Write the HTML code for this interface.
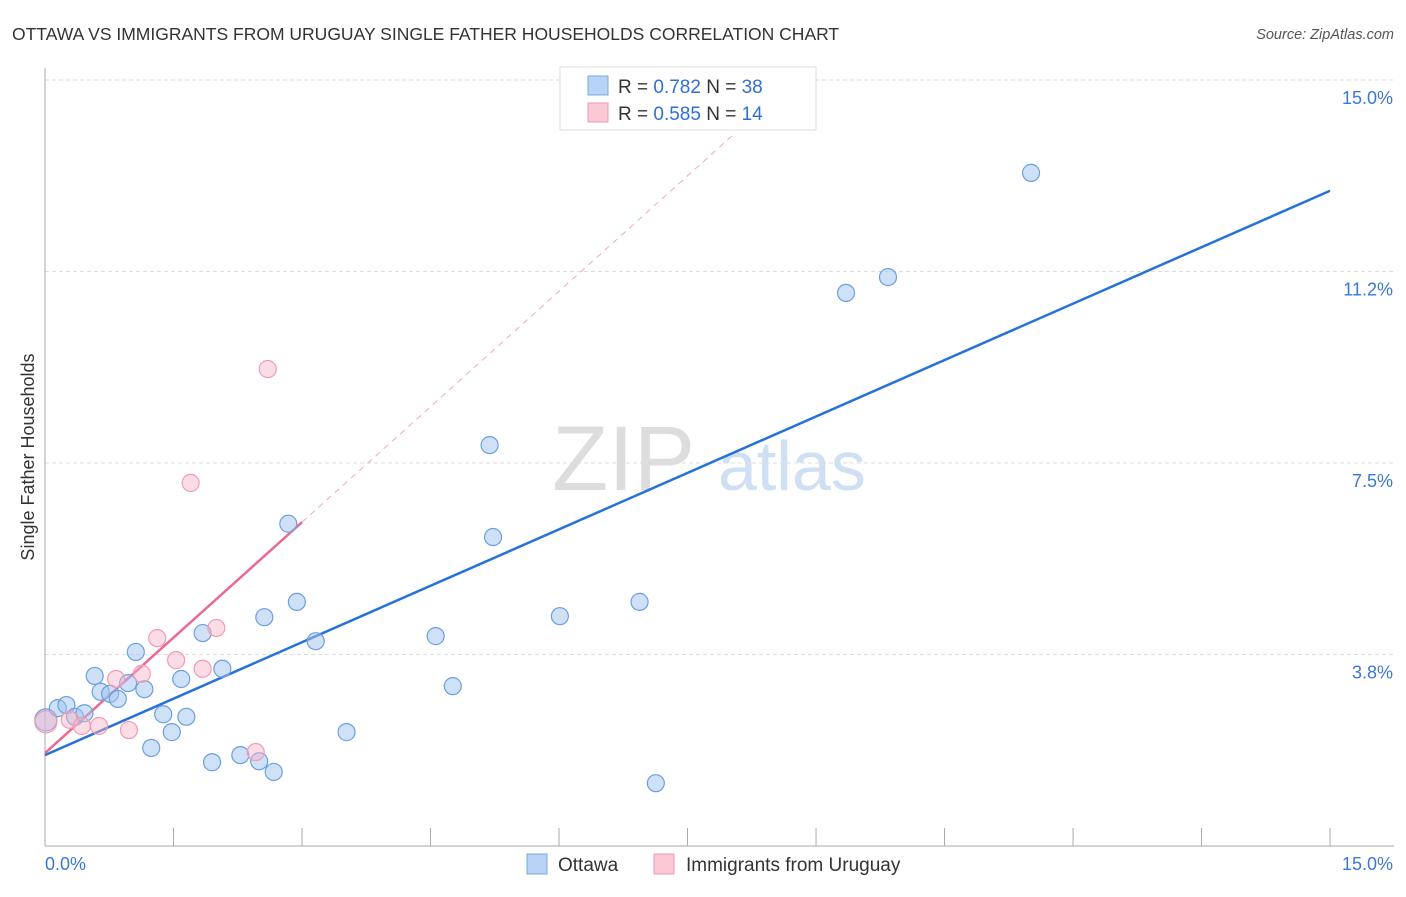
<!DOCTYPE html>
<html><head><meta charset="utf-8"><style>
body{margin:0;background:#fff;font-family:"Liberation Sans",sans-serif}
svg text{font-family:"Liberation Sans",sans-serif}
</style></head><body>
<svg id="c" width="1406" height="892">
<text x="12" y="40" font-size="17.5" fill="#333">OTTAWA VS IMMIGRANTS FROM URUGUAY SINGLE FATHER HOUSEHOLDS CORRELATION CHART</text>
<text x="1394" y="39" font-size="14.5" fill="#555" text-anchor="end" font-style="italic">Source: ZipAtlas.com</text>
<g><text x="552" y="490" font-size="92" fill="#ddd" font-family="Liberation Serif">ZIP</text><text x="718" y="490" font-size="70" fill="#cfe0f5">atlas</text></g>
<g id="grid"></g><g id="axes"></g><g id="lines"></g><g id="pts"></g>
<text transform="translate(34,457) rotate(-90)" font-size="18" fill="#333" text-anchor="middle">Single Father Households</text>
<g>
<rect x="560" y="67" width="256" height="63" fill="#fff" stroke="#ddd"/>
<rect x="588" y="76" width="20" height="19" fill="#b8d3f5" stroke="#7aa8e0"/>
<rect x="588" y="103" width="20" height="19" fill="#fbc8d6" stroke="#ee9ab2"/>
<text x="618" y="93" font-size="19" fill="#333">R = <tspan fill="#2f6fd8">0.782</tspan>   N = <tspan fill="#2f6fd8">38</tspan></text>
<text x="618" y="120" font-size="19" fill="#333">R = <tspan fill="#2f6fd8">0.585</tspan>   N = <tspan fill="#2f6fd8">14</tspan></text>
</g>
<g>
<rect x="527" y="854" width="20" height="20" fill="#b8d3f5" stroke="#7aa8e0"/>
<text x="558" y="871" font-size="19" fill="#333">Ottawa</text>
<rect x="654" y="854" width="20" height="20" fill="#fbc8d6" stroke="#ee9ab2"/>
<text x="686" y="871" font-size="19" fill="#333">Immigrants from Uruguay</text>
</g>
</svg>
<script>
const yTicks=[3.75,7.5,11.25,15];
const yTickLabels=["3.8%","7.5%","11.2%","15.0%"];
const xTicks=[0,1.5,3,4.5,6,7.5,9,10.5,12,13.5,15];
const ottawaX=[0.01,0.15,0.25,0.35,0.46,0.58,0.65,0.76,0.85,0.97,1.06,1.16,1.24,1.38,1.48,1.59,1.65,1.84,1.95,2.07,2.28,2.50,2.56,2.67,2.84,2.94,3.16,3.52,4.56,4.76,5.19,5.23,6.01,6.94,7.13,9.35,9.84,11.51];
const ottawaY=[2.47,2.70,2.76,2.53,2.60,3.33,3.02,2.98,2.88,3.19,3.80,3.07,1.92,2.58,2.23,3.27,2.53,4.17,1.64,3.47,1.78,1.66,4.48,1.45,6.31,4.78,4.01,2.23,4.11,3.13,7.85,6.05,4.50,4.78,1.23,10.83,11.14,13.18];
const uruX=[0.01,0.29,0.43,0.63,0.83,0.98,1.13,1.31,1.53,1.70,1.84,2.00,2.46,2.60];
const uruY=[2.43,2.47,2.35,2.35,3.27,2.27,3.37,4.07,3.64,7.11,3.47,4.27,1.84,9.34];
const ottawaFit=[1.78,12.83]; // y at x=0 and x=15
const uruFit=[1.82,1.507]; // intercept, slope
const X=v=>45+v*85.67, Y=v=>846-v*51.07;
const NS="http://www.w3.org/2000/svg";
function mk(p,t,a){const e=document.createElementNS(NS,t);for(const k in a)e.setAttribute(k,a[k]);p.appendChild(e);return e;}
const g=document.getElementById('grid'),ax=document.getElementById('axes'),ln=document.getElementById('lines'),pt=document.getElementById('pts');
yTicks.forEach((v,i)=>{
const l=mk(g,'line',{x1:45,x2:1394,y1:Y(v),y2:Y(v),stroke:'#ddd','stroke-dasharray':'4,3'});


const t=mk(g,'text',{x:1393,y:Y(v)+24,'font-size':18,fill:'#3a78d8','text-anchor':'end'});t.textContent=yTickLabels[i];


});
const ya=mk(ax,'line',{x1:45,x2:45,y1:68,y2:846,stroke:'#aaa'});


const xa=mk(ax,'line',{x1:45,x2:1394,y1:846,y2:846,stroke:'#aaa'});


xTicks.forEach(v=>{const t=mk(ax,'line',{x1:X(v),x2:X(v),y1:828,y2:846,stroke:'#aaa'});

});
const xl0=mk(ax,'text',{x:45,y:870,'font-size':18,fill:'#3a78d8'});xl0.textContent=xTicks[0].toFixed(1)+'%';


const xl1=mk(ax,'text',{x:1393,y:870,'font-size':18,fill:'#3a78d8','text-anchor':'end'});xl1.textContent=xTicks[xTicks.length-1].toFixed(1)+'%';


const ud=mk(ln,'line',{x1:X(3),y1:Y(uruFit[0]+uruFit[1]*3),x2:X(8.05),y2:Y(uruFit[0]+uruFit[1]*8.05),stroke:'#f0a8bc','stroke-dasharray':'6,5','stroke-width':1});


function dots(xs,ys,fill,stroke,name){xs.forEach((x,i)=>{const c=mk(pt,'circle',{cx:X(x),cy:Y(ys[i]),r:(i==0?11:8.5),fill:fill,stroke:stroke,'stroke-width':1.2});

});}
dots(ottawaX,ottawaY,'rgba(160,196,240,0.5)','#6b9fe0','ottawa-point');
dots(uruX,uruY,'rgba(248,180,200,0.45)','#ef9cb4','uruguay-point');
const bl=mk(ln,'line',{x1:X(0),y1:Y(ottawaFit[0]),x2:X(15),y2:Y(ottawaFit[1]),stroke:'#2672d9','stroke-width':2.5});


const pl=mk(ln,'line',{x1:X(0),y1:Y(uruFit[0]),x2:X(3),y2:Y(uruFit[0]+uruFit[1]*3),stroke:'#ec6a92','stroke-width':2.5});


</script>
</body></html>
